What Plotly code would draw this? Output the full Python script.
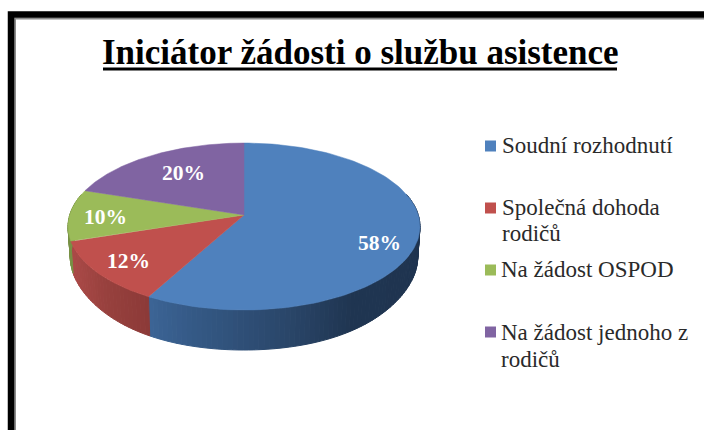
import numpy as np
import plotly.graph_objects as go

categories = ["Soudní rozhodnutí", "Společná dohoda<br>rodičů", "Na žádost OSPOD", "Na žádost jednoho z<br>rodičů"]
values = [58, 12, 10, 20]
colors = ["#4F81BD", "#C0504D", "#9BBB59", "#8064A2"]
title_text = "<b>Iniciátor žádosti o službu asistence</b>"

# pie projection (pixel-based axes)
CX, CY, A, B, C, DEPTH = 244.0, 215.0, 81.9, 0.138, 174.3, 40.0


def rim(theta):
    X, Y = np.sin(theta), np.cos(theta)
    d = 1 + B * Y
    return CX + C * X / d, CY - A * Y / d


def lerp_color(stops, x):
    xs = [s[0] for s in stops]
    return "rgb(%d,%d,%d)" % tuple(np.interp(x, xs, [s[1][i] for s in stops]) for i in range(3))


side_stops = {
    0: [(148, (61, 101, 150)), (190, (53, 90, 135)), (290, (42, 70, 105)), (350, (32, 54, 82)), (420, (31, 52, 80))],
    1: [(70, (172, 74, 72)), (105, (152, 65, 62)), (150, (140, 58, 56))],
    2: [(60, (120, 145, 70)), (80, (120, 145, 70))],
    3: [(60, (100, 78, 128)), (90, (100, 78, 128))],
}

fig = go.Figure()
cum = np.cumsum([0] + values) / sum(values) * 2 * np.pi

# side walls (front only)
for i in range(len(values)):
    t0, t1 = cum[i], cum[i + 1]
    lo, hi = max(t0, np.radians(75)), min(t1, np.radians(285))
    if hi <= lo:
        continue
    n = max(2, int((hi - lo) / np.radians(1.5)))
    edges = np.linspace(lo, hi, n + 1)
    for a0, a1 in zip(edges[:-1], edges[1:]):
        t = np.linspace(a0, a1, 3)
        x, y = rim(t)
        xb = CX + (x - CX) * 0.987
        yb = y + DEPTH * (1 - 0.22 * (np.abs(x - CX) / 176) ** 4)
        col = lerp_color(side_stops[i], float(x.mean()))
        fig.add_trace(go.Scatter(
            x=np.r_[x, xb[::-1], x[0]], y=np.r_[y, yb[::-1], y[0]],
            mode="lines", fill="toself", fillcolor=col,
            line=dict(color=col, width=1), hoverinfo="skip", showlegend=False))

# top faces
for i, v in enumerate(values):
    t = np.linspace(cum[i], cum[i + 1], 120)
    x, y = rim(t)
    fig.add_trace(go.Scatter(
        x=np.r_[CX, x, CX], y=np.r_[CY, y, CY],
        mode="lines", fill="toself", fillcolor=colors[i],
        line=dict(color=colors[i], width=0.5), hoverinfo="skip", showlegend=False))

# legend swatches
legend_y = [146, 208, 270, 332]
legend_line_y = [[145], [207, 233], [269], [332, 359]]
legend_x = [500, 500, 499, 499]
fig.add_trace(go.Scatter(
    x=[490.5] * 4, y=legend_y, mode="markers",
    marker=dict(symbol="square", size=11, color=colors, line=dict(width=0)),
    hoverinfo="skip", showlegend=False))

annotations = []
for c, ys, tx in zip(categories, legend_line_y, legend_x):
    for line, ty in zip(c.split("<br>"), ys):
        annotations.append(dict(x=tx, y=ty, xref="x", yref="y", text=line, showarrow=False,
                                xanchor="left", yanchor="middle", align="left",
                                font=dict(family="Liberation Serif", size=23, color="#2a2a2a")))

label_pos = [(379, 243), (128, 261), (105, 217), (183, 173)]
for v, (lx, ly) in zip(values, label_pos):
    annotations.append(dict(x=lx, y=ly, xref="x", yref="y", text=f"<b>{v}%</b>", showarrow=False,
                            font=dict(family="Liberation Serif", size=21.5, color="white")))

annotations.append(dict(x=360, y=52, xref="x", yref="y", text=title_text, showarrow=False,
                        font=dict(family="Liberation Serif", size=35, color="black")))

shapes = [
    dict(type="line", x0=103, x1=617, y0=69, y1=69, xref="x", yref="y", line=dict(color="black", width=3)),
    dict(type="rect", x0=15, x1=760, y0=18.5, y1=480, xref="x", yref="y", line=dict(color="#8c8c8c", width=2)),
    dict(type="rect", x0=11, x1=760, y0=14.5, y1=480, xref="x", yref="y", line=dict(color="black", width=6.5)),
]

fig.update_layout(
    width=704, height=430, autosize=False,
    margin=dict(l=0, r=0, t=0, b=0),
    paper_bgcolor="white", plot_bgcolor="white",
    xaxis=dict(range=[0, 704], visible=False, fixedrange=True),
    yaxis=dict(range=[430, 0], visible=False, fixedrange=True),
    annotations=annotations, shapes=shapes, showlegend=False,
)
fig.write_html("out.html", config={"displayModeBar": False},
               post_script="document.body.style.margin='0';document.documentElement.style.overflow='hidden';")
